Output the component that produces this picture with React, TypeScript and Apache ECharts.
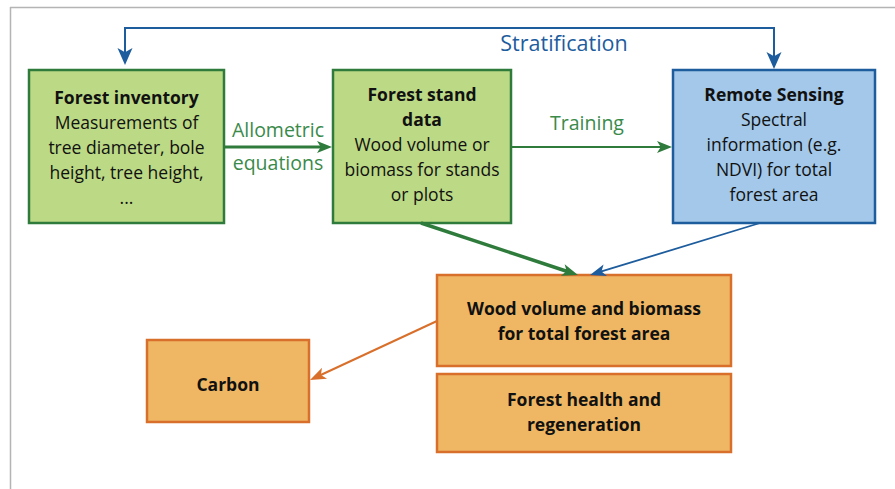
import React, { useEffect, useRef } from "react";
import * as echarts from "echarts";

// ---- content ----
const nodeTitles: string[][] = [
  ["Forest inventory"],
  ["Forest stand", "data"],
  ["Remote Sensing"],
  ["Wood volume and biomass", "for total forest area"],
  ["Forest health and", "regeneration"],
  ["Carbon"],
];
const nodeBodies: string[][] = [
  ["Measurements of", "tree diameter, bole", "height, tree height,", "..."],
  ["Wood volume or", "biomass for stands", "or plots"],
  ["Spectral", "information (e.g.", "NDVI) for total", "forest area"],
  [],
  [],
  [],
];
const edgeLabels: string[][] = [
  ["Stratification"],
  ["Allometric", "equations"],
  ["Training"],
  [],
  [],
  [],
];

// ---- layout / style ----
const GREEN = { fill: "#bcd985", stroke: "#2e7b3c", text: "#3a8a4a" };
const BLUE = { fill: "#a3c8e9", stroke: "#1d5c9d", text: "#1d5c9d" };
const ORANGE = { fill: "#efb763", stroke: "#d8702c", text: "#d8702c" };

const nodeLayout = [
  { x: 29, y: 70, w: 195, h: 153, c: GREEN, dy: 0 },
  { x: 333, y: 70, w: 178, h: 153, c: GREEN, dy: -3 },
  { x: 673, y: 70, w: 202, h: 153, c: BLUE, dy: -3 },
  { x: 437, y: 275, w: 294, h: 91, c: ORANGE, dy: 0 },
  { x: 437, y: 374, w: 294, h: 78, c: ORANGE, dy: -2 },
  { x: 147, y: 340, w: 162, h: 82, c: ORANGE, dy: 3 },
];

const FONT = "'Open Sans'";
const BOX_FS = 17.5;
const LINE_H = 25;

function arrowHead(tx: number, ty: number, fx: number, fy: number, len: number, wid: number, color: string) {
  const dx = tx - fx, dy = ty - fy;
  const d = Math.hypot(dx, dy);
  const ux = dx / d, uy = dy / d;
  const px = -uy, py = ux;
  const bx = tx - ux * len, by = ty - uy * len;
  const nx = tx - ux * len * 0.75, ny = ty - uy * len * 0.75;
  return {
    type: "polygon",
    shape: {
      points: [
        [tx, ty],
        [bx + px * wid / 2, by + py * wid / 2],
        [nx, ny],
        [bx - px * wid / 2, by - py * wid / 2],
      ],
    },
    style: { fill: color },
    z: 20,
  };
}

function arrow(pts: number[][], color: string, width: number, len: number, wid: number, both = false) {
  const els: any[] = [];
  const n = pts.length;
  const linePts = pts.map((p) => [p[0], p[1]]);
  const [ex, ey] = pts[n - 1];
  const [px, py] = pts[n - 2];
  const d = Math.hypot(ex - px, ey - py);
  linePts[n - 1] = [ex - ((ex - px) / d) * len * 0.7, ey - ((ey - py) / d) * len * 0.7];
  if (both) {
    const [sx, sy] = pts[0];
    const [qx, qy] = pts[1];
    const d2 = Math.hypot(sx - qx, sy - qy);
    linePts[0] = [sx - ((sx - qx) / d2) * len * 0.7, sy - ((sy - qy) / d2) * len * 0.7];
    els.push(arrowHead(sx, sy, qx, qy, len, wid, color));
  }
  els.push({
    type: "polyline",
    shape: { points: linePts },
    style: { stroke: color, lineWidth: width, fill: null },
    z: 15,
  });
  els.push(arrowHead(ex, ey, px, py, len, wid, color));
  return els;
}

const edgeLayout = [
  { pts: [[125, 65], [125, 28], [774, 28], [774, 69]], c: BLUE.stroke, w: 2, len: 17, wid: 15, both: true, lx: 564, ly: 42, tc: BLUE.text, fs: 21.5 },
  { pts: [[224, 147], [332, 147]], c: GREEN.stroke, w: 3, len: 15, wid: 12, both: false, lx: 278, ly: 129, tc: GREEN.text, fs: 19.5 },
  { pts: [[511, 147], [672, 147]], c: GREEN.stroke, w: 2, len: 15, wid: 12, both: false, lx: 587, ly: 122, tc: GREEN.text, fs: 19.5 },
  { pts: [[421, 223], [578, 275]], c: GREEN.stroke, w: 3.5, len: 16, wid: 12, both: false, lx: 0, ly: 0, tc: GREEN.text, fs: 18 },
  { pts: [[760, 223], [590, 275]], c: BLUE.stroke, w: 1.8, len: 16, wid: 12, both: false, lx: 0, ly: 0, tc: BLUE.text, fs: 18 },
  { pts: [[437, 321], [310, 380]], c: ORANGE.stroke, w: 2, len: 16, wid: 12, both: false, lx: 0, ly: 0, tc: ORANGE.text, fs: 18 },
];

function buildGraphic() {
  const els: any[] = [];
  els.push({ type: "line", shape: { x1: 10.5, y1: 7, x2: 10.5, y2: 489 }, style: { stroke: "#b4b4b4", lineWidth: 1.5 } });
  els.push({ type: "line", shape: { x1: 10, y1: 7.5, x2: 895, y2: 7.5 }, style: { stroke: "#b4b4b4", lineWidth: 1.5 } });

  nodeLayout.forEach((L, i) => {
    els.push({
      type: "rect",
      shape: { x: L.x, y: L.y, width: L.w, height: L.h },
      style: { fill: L.c.fill, stroke: L.c.stroke, lineWidth: 2.5 },
      z: 10,
    });
    const lines = [
      ...nodeTitles[i].map((t) => ({ t, bold: true })),
      ...nodeBodies[i].map((t) => ({ t, bold: false })),
    ];
    const cx = L.x + L.w / 2;
    const cy = L.y + L.h / 2 + L.dy;
    const y0 = cy - ((lines.length - 1) * LINE_H) / 2;
    lines.forEach((ln, k) => {
      els.push({
        type: "text",
        x: cx,
        y: y0 + k * LINE_H,
        z: 30,
        style: {
          text: ln.t,
          fill: "#111111",
          font: `${ln.bold ? "bold " : ""}${BOX_FS}px ${FONT}`,
          align: "center",
          verticalAlign: "middle",
        },
      });
    });
  });

  edgeLayout.forEach((E, i) => {
    els.push(...arrow(E.pts, E.c, E.w, E.len, E.wid, E.both));
    edgeLabels[i].forEach((t, k) => {
      els.push({
        type: "text",
        x: E.lx,
        y: E.ly + k * 33,
        z: 30,
        style: {
          text: t,
          fill: E.tc,
          font: `${E.fs}px ${FONT}`,
          align: "center",
          verticalAlign: "middle",
        },
      });
    });
  });
  return els;
}

export default function App() {
  const ref = useRef<HTMLDivElement>(null);
  useEffect(() => {
    if (!ref.current) return;
    const chart = echarts.init(ref.current, null, { renderer: "svg" });
    chart.setOption({
      animation: false,
      backgroundColor: "#ffffff",
      graphic: { elements: buildGraphic() },
    });
    return () => chart.dispose();
  }, []);
  return (
    <div
      ref={ref}
      style={{ position: "fixed", left: 0, top: 0, width: 895, height: 489 }}
    />
  );
}
